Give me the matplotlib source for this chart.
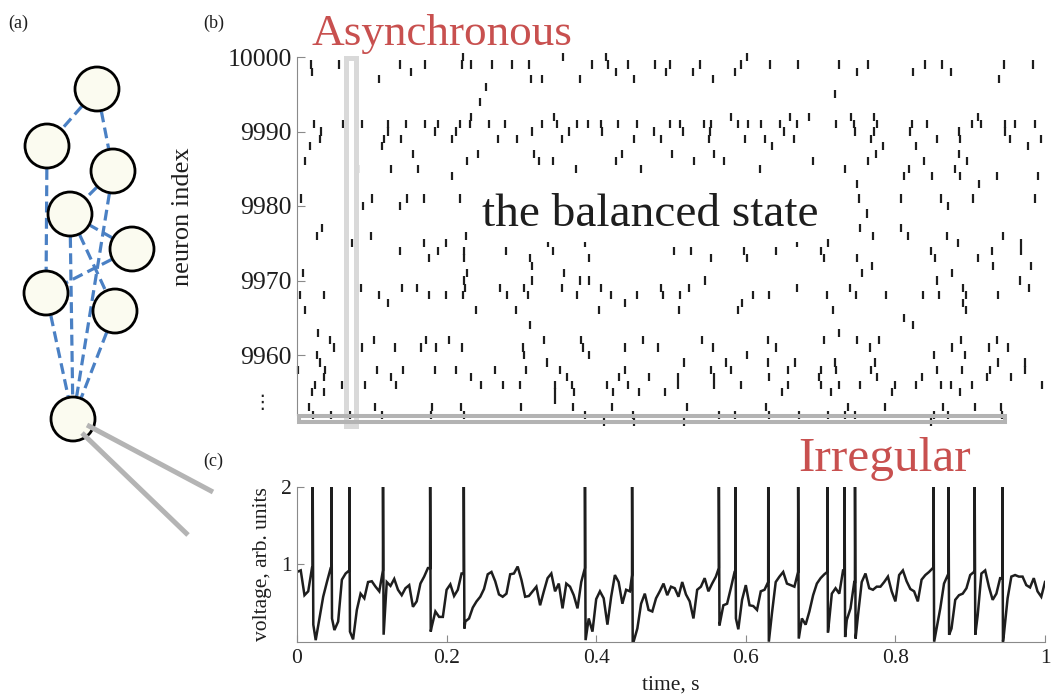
import numpy as np
import matplotlib

matplotlib.use("Agg")
import matplotlib.pyplot as plt
from matplotlib.patches import Rectangle, Circle

plt.rcParams["font.family"] = ["Liberation Serif", "DejaVu Serif"]

RED = "#c8504f"
INK = "#1e1e1e"
AXIS = "#8a8a8a"
BLUE = "#4a80c4"
NODE_FACE = "#fbfbf0"
LIGHT_BOX = "#d9d9d9"
DARK_BOX = "#b3b3b3"
WIRE = "#b4b4b4"

W, H = 1052, 698

# ---- (a) schematic network (canvas units = pixels, y down) ----
node_x = [97, 47, 113, 70, 132, 46, 115, 73]
node_y = [89, 146, 171, 214, 249, 293, 311, 419]
node_r = 22
edges = [(0, 1), (0, 2), (1, 5), (2, 3), (2, 7), (3, 7), (4, 3), (3, 6),
         (4, 5), (5, 7), (6, 7)]
wire_x = [(87, 213), (82, 188)]
wire_y = [(425, 492), (433, 535)]

# ---- (b) raster: row i is neuron 10000 - i, spike times in ms ----
raster_top = 10000
spikes_ms = [
    [222, 356, 413, 602],
    [19, 56, 138, 171, 220, 232, 261, 287, 310, 395, 416, 442, 479, 498,
     539, 593, 633, 670, 725, 763, 840, 862, 945, 984],
    [20, 153, 426, 493, 529, 585, 749, 824, 874],
    [109, 313, 328, 379, 450, 556, 939],
    [253],
    [719],
    [245],
    [],
    [232, 344, 580, 659, 684, 740, 772, 911],
    [23, 62, 87, 121, 146, 171, 189, 218, 231, 257, 278, 327, 348, 374, 389,
     407, 429, 455, 498, 512, 544, 554, 590, 603, 620, 646, 669, 721, 744,
     775, 822, 842, 903, 915, 946, 960, 987],
    [32, 121, 185, 212, 314, 364, 408, 477, 516, 552, 651, 746, 771, 820,
     885, 947],
    [31, 116, 139, 207, 269, 294, 354, 450, 486, 551, 599, 626, 665, 767,
     855, 887, 953, 994],
    [18, 113, 635, 784, 827, 977],
    [155, 242, 317, 434, 501, 558, 774, 885],
    [11, 227, 323, 342, 427, 531, 571, 690, 763, 838, 896],
    [82, 126, 162, 373, 460, 619, 733, 818, 880],
    [207, 811, 849, 887, 936, 990],
    [749, 912],
    [],
    [6, 100, 147, 170, 218, 249, 751, 808, 861, 904, 987],
    [88, 138, 870],
    [762],
    [],
    [33, 753, 807],
    [27, 99, 226, 770, 817, 869, 944],
    [73, 170, 199, 335, 385, 669, 710, 884, 968],
    [138, 189, 223, 279, 342, 504, 527, 598, 640, 700, 848, 929, 968],
    [176, 223, 312, 390, 554, 602, 704, 748, 853, 911],
    [314, 769, 931, 981],
    [8, 227, 357, 756, 875],
    [223, 314, 378, 391, 546, 856, 966],
    [86, 141, 161, 225, 272, 304, 354, 407, 486, 524, 668, 739, 891, 978],
    [4, 36, 110, 176, 199, 222, 281, 309, 374, 420, 454, 489, 512, 610, 631,
     709, 747, 787, 837, 858, 895, 937],
    [122, 439, 595, 890],
    [11, 239, 293, 404, 511, 590, 716, 895],
    [811],
    [311, 824],
    [28, 725],
    [44, 103, 173, 203, 330, 380, 463, 542, 630, 704, 748, 778, 888, 936],
    [50, 87, 131, 166, 186, 220, 302, 383, 439, 483, 556, 641, 766, 875,
     925, 950],
    [27, 303, 390, 602, 852, 893],
    [31, 334, 518, 573, 630, 666, 719, 773, 937, 973],
    [2, 38, 107, 142, 185, 213, 265, 306, 351, 438, 553, 580, 657, 701, 720,
     767, 855, 889, 926, 973],
    [36, 126, 232, 361, 431, 471, 509, 558, 631, 698, 776, 835, 922, 955],
    [24, 60, 91, 133, 246, 275, 298, 345, 367, 415, 442, 509, 558, 594, 656,
     700, 725, 753, 799, 828, 861, 874, 902, 996],
    [20, 36, 345, 370, 423, 457, 492, 648, 714, 796, 887],
    [345],
    [16, 104, 180, 219, 300, 369, 421, 522, 627, 737, 786, 863, 906, 941],
    [21, 46, 71, 114, 179, 223, 385, 449, 564, 586, 631, 671, 710, 732, 746,
     851, 870, 942],
    [411, 451, 517, 848],
]
raster_yticks = [9960, 9970, 9980, 9990, 10000]

# highlight boxes (raster data units)
async_box = (0.0652, 9950.47, 0.0134, 49.46)
irreg_box = (0.0033, 9950.94, 0.9433, 0.87)

# ---- (c) membrane voltage, sampled every 5 ms (nan = spike sample) ----
trace_dt = 0.005
trace_v = [
    0.90, 0.92, 0.60, 0.65, 0.95, 0.02, 0.30, 0.58, 0.77, 0.95,
    0.15, 0.26, 0.80, 0.88, np.nan, 0.03, 0.41, 0.62, 0.56, 0.77,
    0.78, 0.71, 0.65, np.nan, 0.77, 0.72, 0.81, 0.67, 0.60, 0.69,
    0.73, 0.45, 0.52, 0.75, 0.84, 0.95, 0.19, 0.39, 0.32, 0.32,
    0.67, 0.74, 0.59, 0.67, 0.88, 0.26, 0.30, 0.44, 0.52, 0.58,
    0.68, 0.87, 0.90, 0.78, 0.61, 0.58, 0.62, 0.87, 0.88, 0.97,
    0.80, 0.58, 0.59, 0.65, 0.71, 0.47, 0.65, 0.82, 0.88, 0.65,
    0.75, 0.43, 0.75, 0.71, 0.60, 0.43, 0.77, np.nan, 0.30, 0.13,
    0.55, 0.65, 0.56, 0.22, 0.58, 0.86, 0.77, 0.49, 0.67, 0.65,
    0.00, 0.17, 0.49, 0.62, 0.41, 0.39, 0.56, 0.65, 0.75, 0.60,
    0.71, 0.69, 0.58, 0.77, 0.61, 0.52, 0.30, 0.67, 0.71, 0.82,
    0.65, 0.75, 0.84, 0.22, 0.47, 0.49, 0.69, 0.90, 0.16, 0.54,
    0.73, 0.47, 0.46, 0.41, 0.65, 0.67, np.nan, 0.37, 0.77, 0.84,
    0.90, 0.75, 0.73, 0.71, np.nan, 0.30, 0.22, 0.39, 0.60, 0.75,
    0.82, 0.87, 0.13, 0.62, 0.69, 0.62, 0.92, 0.28, 0.43, 0.77,
    0.34, 0.77, 0.88, 0.69, 0.67, 0.71, 0.71, 0.77, 0.84, 0.65,
    0.52, 0.86, 0.92, 0.78, 0.68, 0.65, 0.52, 0.80, 0.86, 0.90,
    0.95, 0.17, 0.43, 0.75, 0.86, 0.17, 0.54, 0.60, 0.62, 0.69,
    0.86, 0.90, 0.34, 0.88, 0.92, 0.71, 0.54, 0.62, 0.82, 0.09,
    0.56, 0.84, 0.86, 0.84, 0.84, 0.73, 0.70, 0.82, 0.65, 0.58,
    0.77,
]
spike_t = [0.021, 0.046, 0.070, 0.115, 0.178, 0.223, 0.385, 0.448, 0.564,
           0.586, 0.630, 0.670, 0.709, 0.732, 0.746, 0.851, 0.871, 0.906,
           0.943]
spike_pre = [0.95, 0.95, 0.92, 0.92, 0.95, 0.88, 0.95, 0.86, 0.95, 0.90,
             0.77, 0.90, 0.90, 0.92, 0.77, 0.95, 0.86, 0.90, 0.82]
spike_reset = [0.22, 0.30, 0.13, 0.09, 0.13, 0.17, 0.02, 0.00, 0.22, 0.30,
               0.00, 0.04, 0.13, 0.06, 0.04, 0.00, 0.09, 0.09, 0.00]
spike_peak = 2.0
time_ticks = [0, 0.2, 0.4, 0.6, 0.8, 1]
time_labels = ["0", "0.2", "0.4", "0.6", "0.8", "1"]


def frac(x0, y0, x1, y1):
    return [x0 / W, 1 - y1 / H, (x1 - x0) / W, (y1 - y0) / H]


fig = plt.figure(figsize=(W / 100, H / 100), dpi=100)
fig.patch.set_facecolor("white")

# (a)
ax_a = fig.add_axes([0, 0, 1, 1])
ax_a.set_xlim(0, W)
ax_a.set_ylim(H, 0)
ax_a.axis("off")
for i, j in edges:
    x0, y0, x1, y1 = node_x[i], node_y[i], node_x[j], node_y[j]
    d = np.hypot(x1 - x0, y1 - y0)
    ux, uy = (x1 - x0) / d, (y1 - y0) / d
    s = node_r + 1
    ax_a.plot([x0 + ux * s, x1 - ux * s], [y0 + uy * s, y1 - uy * s],
              color=BLUE, lw=2.3, dashes=(3.4, 1.7), solid_capstyle="butt",
              zorder=1)
for x, y in zip(node_x, node_y):
    ax_a.add_patch(Circle((x, y), node_r, facecolor=NODE_FACE,
                          edgecolor="black", lw=2.0, zorder=2))
for xs, ys in zip(wire_x, wire_y):
    ax_a.plot(xs, ys, color=WIRE, lw=3.6, solid_capstyle="butt", zorder=3)

# (b)
ax_r = fig.add_axes(frac(297, 57, 1045, 414.6))
ax_r.set_facecolor("none")
for i, row in enumerate(spikes_ms):
    n = raster_top - i
    if row:
        ax_r.vlines(np.array(row) / 1000.0, n - 0.55, n + 0.55, color=INK,
                    lw=1.6, clip_on=False, zorder=2)
ax_r.set_xlim(0, 1)
ax_r.set_ylim(9952, 10000)
ax_r.set_xticks([])
ax_r.set_yticks(raster_yticks)
for side in ("top", "right", "bottom"):
    ax_r.spines[side].set_visible(False)
ax_r.spines["left"].set_color(AXIS)
ax_r.tick_params(axis="y", direction="in", length=5.8, color=AXIS,
                 labelsize=18.5, labelcolor=INK, pad=3.6)
ax_r.set_ylabel("neuron index", fontsize=19, color=INK)
ax_r.yaxis.set_label_coords(-0.138, 0.553)
ax_r.add_patch(Rectangle(async_box[:2], async_box[2], async_box[3],
                         fill=False, edgecolor=LIGHT_BOX, lw=3.6,
                         clip_on=False, zorder=5))
ax_r.add_patch(Rectangle(irreg_box[:2], irreg_box[2], irreg_box[3],
                         fill=False, edgecolor=DARK_BOX, lw=2.9,
                         clip_on=False, zorder=6))

# (c)
pts = [(k * trace_dt, v) for k, v in enumerate(trace_v) if not np.isnan(v)]
for ts, vp, vr in zip(spike_t, spike_pre, spike_reset):
    pts += [(ts - 0.0001, vp), (ts, spike_peak), (ts + 0.0008, vr)]
pts.sort()
tt, vv = zip(*pts)

ax_v = fig.add_axes(frac(297, 486.7, 1045, 641.7))
ax_v.plot(tt, vv, color=INK, lw=1.8, solid_joinstyle="miter")
ax_v.set_xlim(0, 1)
ax_v.set_ylim(0, 2)
ax_v.set_xticks(time_ticks)
ax_v.set_xticklabels(time_labels)
ax_v.set_yticks([1, 2])
for side in ("top", "right"):
    ax_v.spines[side].set_visible(False)
for side in ("left", "bottom"):
    ax_v.spines[side].set_color(AXIS)
ax_v.tick_params(direction="in", length=5.0, color=AXIS, labelsize=15.5,
                 labelcolor=INK)
ax_v.tick_params(axis="x", pad=5)
ax_v.tick_params(axis="y", pad=4)
ax_v.set_ylabel("voltage, arb. units", fontsize=15.5, color=INK)
ax_v.yaxis.set_label_coords(-0.033, 0.5)
ax_v.set_xlabel("time, s", fontsize=15.5, color=INK)
ax_v.xaxis.set_label_coords(0.5, -0.22)

# texts
fig.text(8 / W, 1 - 28 / H, "(a)", fontsize=13, va="baseline", color=INK)
fig.text(203 / W, 1 - 28 / H, "(b)", fontsize=13, va="baseline", color=INK)
fig.text(203 / W, 1 - 466 / H, "(c)", fontsize=13, va="baseline", color=INK)
fig.text(312 / W, 1 - 45 / H, "Asynchronous", fontsize=32.5, color=RED,
         va="baseline")
fig.text(798 / W, 1 - 471 / H, "Irregular", fontsize=35.5, color=RED,
         va="baseline", ha="left")
fig.text(482 / W, 1 - 226 / H, "the balanced state", fontsize=34, color=INK,
         va="baseline", zorder=10,
         bbox=dict(facecolor="white", edgecolor="none", pad=4))
fig.text(262 / W, 1 - 403 / H, "\u22ee", fontsize=14, ha="center",
         va="center", color=INK, family=["DejaVu Sans"])

fig.savefig("out.png", dpi=100, facecolor="white")
